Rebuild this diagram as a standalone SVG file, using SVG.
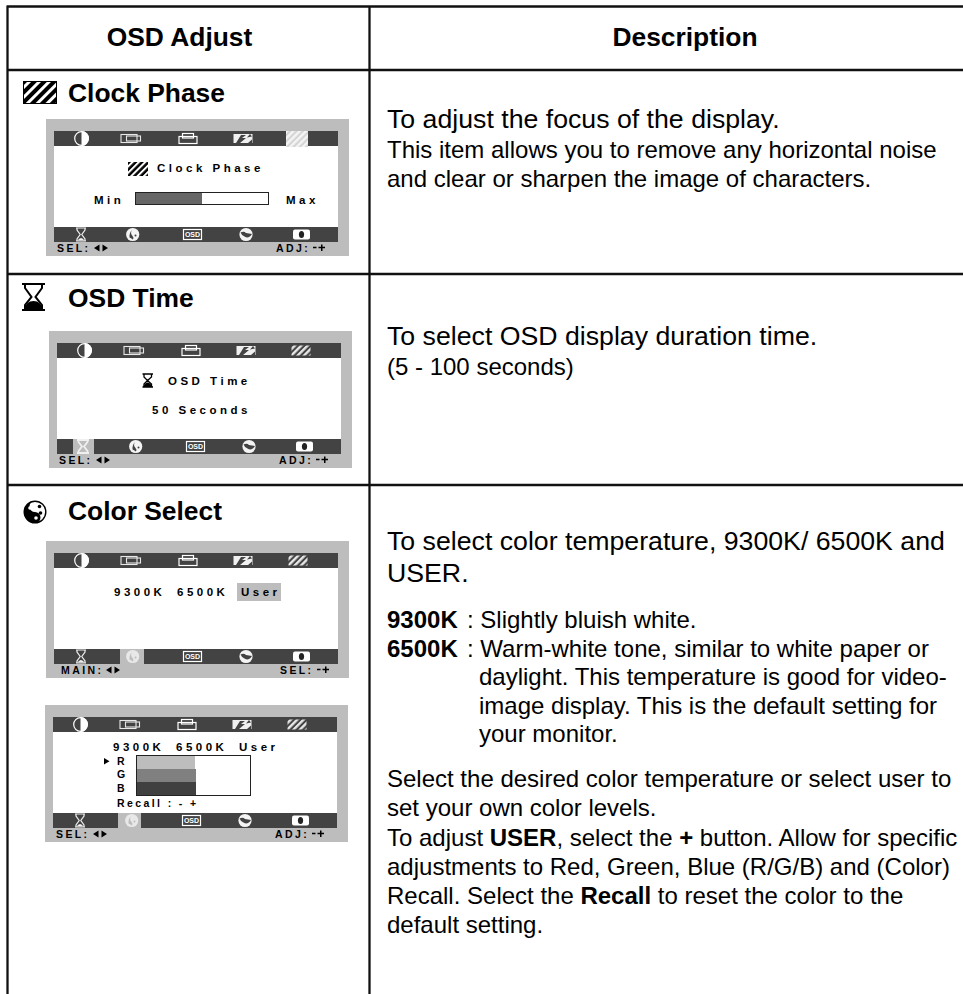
<svg xmlns="http://www.w3.org/2000/svg" width="963" height="994" viewBox="0 0 963 994">
<style>
text{font-family:"Liberation Sans",Arial,sans-serif;fill:#000}
.h{font-size:26.4px;font-weight:700}
.l{font-size:26.7px}
.s{font-size:24px}
.b{font-weight:700}
.m{font-size:11.5px;font-weight:700;letter-spacing:3.5px}
.k{font-size:10.5px;font-weight:700;letter-spacing:2.4px}
.g{font-size:10.5px;font-weight:700}
.line{stroke:#111;stroke-width:2.3;fill:none}
.frame{fill:#bdbdbd}.bar{fill:#434343}.scr{fill:#fff}
</style>
<defs>
<pattern id="st" width="7" height="7" patternUnits="userSpaceOnUse" patternTransform="rotate(-45)"><rect width="7" height="7" fill="#000"/><rect width="7" height="3" fill="#fff"/></pattern>
<pattern id="sts" width="4.500" height="4.500" patternUnits="userSpaceOnUse" patternTransform="rotate(-45)"><rect width="4.500" height="4.500" fill="#000"/><rect width="4.500" height="2" fill="#fff"/></pattern>
<pattern id="stw" width="4.500" height="4.500" patternUnits="userSpaceOnUse" patternTransform="rotate(-45)"><rect width="4.500" height="4.500" fill="#434343"/><rect width="4.500" height="2.400" fill="#e8e8e8"/></pattern>
<pattern id="stp" width="4.500" height="4.500" patternUnits="userSpaceOnUse" patternTransform="rotate(-45)"><rect width="4.500" height="4.500" fill="#d4d4d4"/><rect width="4.500" height="2.400" fill="#f4f4f4"/></pattern>
<g id="i-contrast"><circle r="6.800" fill="none" stroke="#fff" stroke-width="1.200"/><path d="M0-7.500A7.500 7.500 0 0 1 0 7.500Z" fill="#fff"/></g>
<g id="i-win1" fill="none" stroke="#e8e8e8" stroke-width="1.100"><rect x="-10" y="-4" width="16" height="8"/><rect x="-4.500" y="-2.500" width="14" height="5"/></g>
<g id="i-win2" fill="none" stroke="#fff" stroke-width="1.200"><rect x="-9" y="-2" width="18" height="7"/><rect x="-5.500" y="-5" width="11" height="4.500"/></g>
<g id="i-bolt"><rect x="-9.500" y="-4.500" width="19" height="9" fill="#f0f0f0"/><path d="M-7 4.500L-2-3.500H3L-1-.5H3L-3 4.500ZM7-4.500L4-1 9-2ZM9 1L5 4.500H9Z" fill="#434343"/></g>
<rect id="i-st" x="-9.500" y="-5" width="19" height="10" fill="url(#stw)"/>
<rect id="i-stp" x="-11" y="-7.500" width="22" height="16" fill="url(#stp)"/>
<g id="i-hour"><path d="M-5-6.500H5M-5 6.500H5M-4-6.500V-4.500L-.8 0-4 4.500V6.500M4-6.500V-4.500L.8 0 4 4.500V6.500" fill="none" stroke="#f0f0f0" stroke-width="1.200"/><path d="M-3.500 6Q0 1 3.500 6Z" fill="#f0f0f0"/></g>
<g id="i-hourp"><path d="M-6-6.500H6M-6 6.500H6M-4.500-6.500V-4.500L-1 0-4.500 4.500V6.500M4.500-6.500V-4.500L1 0 4.500 4.500V6.500" fill="none" stroke="#f0f0f0" stroke-width="1.800"/></g>
<g id="i-color"><circle r="6.600" fill="#f4f4f4"/><path d="M-1-4.500Q-2.500-1-.5 1Q1.500 3 0 5Q-2 3-3 3.200Q-4 0-1-4.500Z" fill="#434343"/><circle cx="2.800" cy="1" r="1" fill="#434343"/></g>
<g id="i-colorp"><circle r="6.600" fill="#e8e8e8"/><path d="M-1-4.500Q-2.500-1-.5 1Q1.500 3 0 5Q-2 3-3 3.200Q-4 0-1-4.500Z" fill="#bdbdbd"/><circle cx="2.800" cy="1" r="1" fill="#bdbdbd"/></g>
<g id="i-osd"><rect x="-9" y="-5" width="18" height="10" fill="none" stroke="#fff" stroke-width="1.200"/><text x="0" y="2.500" text-anchor="middle" font-size="7" font-weight="700" style="fill:#fff">OSD</text></g>
<g id="i-globe"><circle r="6.600" fill="#f4f4f4"/><path d="M-5.500-2Q-2-3.500 0-1.500Q3-1 6-.5L4.500 1.500Q2 4-1.500 2Q-4 1.500-5.500-2Z" fill="#434343"/></g>
<g id="i-info"><rect x="-8.500" y="-5" width="17" height="10" rx="2" fill="#fff"/><ellipse rx="2.600" ry="3.500" fill="#222"/></g>
<path id="nav" d="M5.500-3.500V3.500L0 0ZM8.500-3.500V3.500L14 0Z"/>
<path id="pm" d="M0-1.200H3.500V.3H0ZM8-3.500H9.500V-1.200H12V.3H9.500V3H8V.3H5.500V-1.200H8Z"/>
<g id="frame"><rect class="frame" x="-8" y="-12" width="303" height="137"/><rect class="bar" width="284" height="15"/><rect class="scr" y="15" width="284" height="81"/><rect class="bar" y="96" width="284" height="15"/>
<use href="#i-contrast" x="27.500" y="7.500"/><use href="#i-win1" x="77" y="7.500"/><use href="#i-win2" x="134" y="7.500"/><use href="#i-bolt" x="189" y="7.500"/>
<use href="#i-osd" x="138.500" y="103.500"/><use href="#i-globe" x="192" y="103.500"/><use href="#i-info" x="247.500" y="103.500"/></g>
</defs>

<g id="table" class="line"><path d="M7 6.500H963M7 70H963M7.500 5.500V994M369.500 5.500V994M7 274H963M7 485H963"/></g>

<g id="headers"><text class="h" x="179.500" y="46" text-anchor="middle">OSD Adjust</text><text class="h" x="685" y="46" text-anchor="middle">Description</text></g>

<g id="clock-phase">
<rect x="23.500" y="81.500" width="33" height="22" fill="url(#st)" stroke="#000"/>
<text class="h" x="68" y="102">Clock Phase</text>
<g id="clock-panel" transform="translate(54 131)">
<use href="#frame"/><use href="#i-stp" x="243" y="7.500"/><use href="#i-hour" x="27" y="103.500"/><use href="#i-color" x="78.700" y="103.500"/>
<rect x="74" y="31" width="20" height="14" fill="url(#sts)"/>
<text class="m" x="103" y="41">Clock Phase</text>
<text class="m" x="40" y="73">Min</text>
<rect x="81.500" y="61.500" width="133" height="12" fill="#fff" stroke="#222"/><rect x="82" y="62" width="66" height="11" fill="#666"/>
<text class="m" x="232" y="73">Max</text>
<text class="k" x="3" y="121">SEL:</text><use href="#nav" x="40" y="117"/>
<text class="k" x="222" y="121">ADJ:</text><use href="#pm" x="259" y="117"/>
</g></g>

<g id="osd-time">
<path d="M22 284H45M22 310H45M25 284V288L31.500 297 25 305V310M42 284V288L35.500 297 42 305V310" fill="none" stroke="#000" stroke-width="2"/><path d="M24 310Q26 301 33.500 301Q41 301 43 310Z"/>
<text class="h" x="68" y="307">OSD Time</text>
<g id="time-panel" transform="translate(57 343)">
<use href="#frame"/><use href="#i-st" x="244" y="7.500"/>
<rect x="16" y="96" width="21" height="15" fill="#bdbdbd"/><use href="#i-hourp" x="26" y="103.500"/><use href="#i-color" x="78.700" y="103.500"/>
<path d="M85.500 31H96M85.500 44H96M87 31V34L90.500 37.500 87 41V44M94.500 31V34L90.500 37.500 94.500 41V44" fill="none" stroke="#000" stroke-width="1.300"/><path d="M86 44Q88 39.500 90.700 39.500Q93.500 39.500 95.500 44Z"/>
<text class="m" x="111" y="42">OSD Time</text>
<text class="m" x="95" y="71">50 Seconds</text>
<text class="k" x="2" y="121">SEL:</text><use href="#nav" x="39" y="117"/>
<text class="k" x="222" y="121">ADJ:</text><use href="#pm" x="259" y="117"/>
</g></g>

<g id="color-select">
<circle cx="35" cy="512" r="10.800" fill="#fff" stroke="#000" stroke-width="1.400"/><path d="M35 501A11 11 0 0 0 35 523A5.500 5.500 0 0 0 35 512A5.500 5.500 0 0 1 35 501Z"/><circle cx="39.500" cy="506.500" r="1.800"/><circle cx="30" cy="508" r="1.800" fill="#fff"/><circle cx="36" cy="518" r="1.800" fill="#fff"/><circle cx="40.500" cy="513" r="1.800"/>
<text class="h" x="68" y="520">Color Select</text>
<g id="color-panel-1" transform="translate(54 553)">
<use href="#frame"/><use href="#i-st" x="244" y="7.500"/>
<rect x="66" y="96" width="24" height="15" fill="#bdbdbd"/><use href="#i-hour" x="27" y="103.500"/><use href="#i-colorp" x="78.700" y="103.500"/>
<rect x="183" y="30" width="44" height="18" fill="#bdbdbd"/>
<text class="m" x="60" y="43">9300K</text><text class="m" x="123" y="43">6500K</text><text class="m" x="187" y="43">User</text>
<text class="k" x="7" y="121">MAIN:</text><use href="#nav" x="52" y="117"/>
<text class="k" x="226" y="121">SEL:</text><use href="#pm" x="263" y="117"/>
</g>
<g id="color-panel-2" transform="translate(53 717)">
<use href="#frame"/><use href="#i-st" x="244" y="7.500"/>
<rect x="65" y="96" width="23" height="15" fill="#bdbdbd"/><use href="#i-hour" x="27" y="103.500"/><use href="#i-colorp" x="78.700" y="103.500"/>
<text class="m" x="60" y="34">9300K</text><text class="m" x="123" y="34">6500K</text><text class="m" x="186" y="34">User</text>
<path d="M51 41V47.500L56.500 44.200Z"/>
<text class="g" x="64" y="48">R</text><text class="g" x="64" y="61">G</text><text class="g" x="64" y="75">B</text>
<rect x="83.500" y="38.500" width="114" height="40" fill="#fff" stroke="#222"/>
<rect x="84" y="39" width="58" height="13" fill="#bdbdbd"/><rect x="84" y="52" width="59" height="13" fill="#808080"/><rect x="84" y="65" width="59" height="13" fill="#404040"/>
<text class="k" x="64" y="90">Recall : - +</text>
<text class="k" x="3" y="121">SEL:</text><use href="#nav" x="40" y="117"/>
<text class="k" x="222" y="121">ADJ:</text><use href="#pm" x="259" y="117"/>
</g></g>

<g id="desc-clock"><text class="l" x="387" y="128">To adjust the focus of the display.</text><text class="s" x="387" y="158">This item allows you to remove any horizontal noise</text><text class="s" x="387" y="187">and clear or sharpen the image of characters.</text></g>
<g id="desc-time"><text class="l" x="387" y="345">To select OSD display duration time.</text><text class="s" x="387" y="375">(5 - 100 seconds)</text></g>
<g id="desc-color">
<text class="l" x="387" y="550">To select color temperature, 9300K/ 6500K and</text><text class="l" x="387" y="582">USER.</text>
<text class="s b" x="387" y="628">9300K</text><text class="s" x="467" y="628">: Slightly bluish white.</text>
<text class="s b" x="387" y="657">6500K</text><text class="s" x="467" y="657">: Warm-white tone, similar to white paper or</text>
<text class="s" x="479" y="685">daylight. This temperature is good for video-</text>
<text class="s" x="479" y="714">image display. This is the default setting for</text>
<text class="s" x="479" y="742">your monitor.</text>
<text class="s" x="387" y="787">Select the desired color temperature or select user to</text>
<text class="s" x="387" y="816">set your own color levels.</text>
<text class="s" x="387" y="846">To adjust <tspan class="b">USER</tspan>, select the <tspan class="b">+</tspan> button. Allow for specific</text>
<text class="s" x="387" y="875">adjustments to Red, Green, Blue (R/G/B) and (Color)</text>
<text class="s" x="387" y="904">Recall. Select the <tspan class="b">Recall</tspan> to reset the color to the</text>
<text class="s" x="387" y="933">default setting.</text>
</g>
</svg>
